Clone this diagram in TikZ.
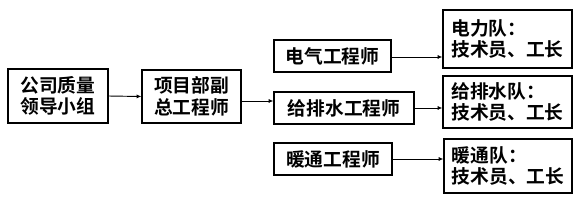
\documentclass[tikz,border=0pt]{standalone}
\usepackage{fontspec}
\usetikzlibrary{arrows.meta}
\newfontfamily\cjk{Noto Sans CJK SC Bold}
\tikzset{
  box/.style={draw,line width=1.1pt,inner sep=0pt,align=center,font=\cjk\fontsize{16}{18.5}\selectfont},
  team/.style={box,align=left},
  arr/.style={line width=0.8pt,-{Latex[length=4pt,width=3.5pt]}},
}
\begin{document}
\begin{tikzpicture}[x=0.03cm,y=-0.03cm]
  \useasboundingbox (0,0) rectangle (580,200);
  % left part
  \node[box,minimum width=100*0.03cm,minimum height=54*0.03cm] (lead) at (58,96) {公司质量\\领导小组};
  \node[box,minimum width=99*0.03cm,minimum height=53*0.03cm] (chief) at (191.5,96.5) {项目部副\\总工程师};
  % engineers
  \node[box,minimum width=117*0.03cm,minimum height=32*0.03cm] (elec) at (332.5,56) {电气工程师};
  \node[box,minimum width=140*0.03cm,minimum height=32*0.03cm] (water) at (344,108) {给排水工程师};
  \node[box,minimum width=118*0.03cm,minimum height=32*0.03cm] (heat) at (333,159) {暖通工程师};
  % teams
  \node[team,minimum width=129*0.03cm,minimum height=58*0.03cm] (elecT) at (507.5,39) {电力队：\\技术员、工长};
  \node[team,minimum width=129*0.03cm,minimum height=52*0.03cm] (waterT) at (507.5,102) {给排水队：\\技术员、工长};
  \node[team,minimum width=128*0.03cm,minimum height=54*0.03cm] (heatT) at (508,166) {暖通队：\\技术员、工长};
  % arrows
  \draw[arr] (lead.east) -- (chief.west);
  \draw[arr] ([yshift=-4.5*0.03cm]chief.east) -- ([yshift=-4.5*0.03cm]chief.east -| water.west);
  \draw[arr] ([yshift=-1*0.03cm]elec.east) -- ([yshift=-1*0.03cm]elec.east -| elecT.west);
  \draw[arr] (water.east) -- (water.east -| waterT.west);
  \draw[arr] (heat.east) -- (heat.east -| heatT.west);
\end{tikzpicture}
\end{document}
